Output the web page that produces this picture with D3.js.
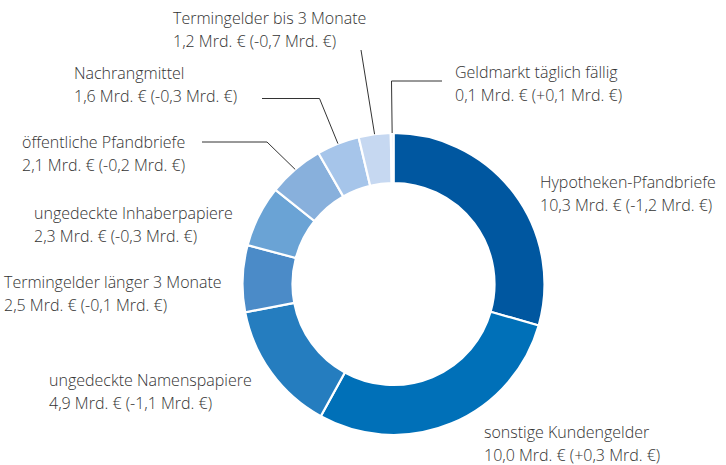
<!DOCTYPE html>
<meta charset="utf-8">
<style>
    body { margin: 0; background: #fff; }
    text { font-family: "Open Sans", sans-serif; font-weight: 300; font-size: 16px; fill: #333; }
</style>
<svg width="726" height="465"></svg>
<script src="https://cdn.jsdelivr.net/npm/d3@7"></script>
<script>
// categories clockwise from 12 o'clock
var categories = ["Hypotheken-Pfandbriefe", "sonstige Kundengelder", "ungedeckte Namenspapiere",
    "Termingelder länger 3 Monate", "ungedeckte Inhaberpapiere", "öffentliche Pfandbriefe",
    "Nachrangmittel", "Termingelder bis 3 Monate", "Geldmarkt täglich fällig"];
var values = [10.3, 10.0, 4.9, 2.5, 2.3, 2.1, 1.6, 1.2, 0.1];
var valueLabels = ["10,3 Mrd. € (-1,2 Mrd. €)", "10,0 Mrd. € (+0,3 Mrd. €)", "4,9 Mrd. € (-1,1 Mrd. €)",
    "2,5 Mrd. € (-0,1 Mrd. €)", "2,3 Mrd. € (-0,3 Mrd. €)", "2,1 Mrd. € (-0,2 Mrd. €)",
    "1,6 Mrd. € (-0,3 Mrd. €)", "1,2 Mrd. € (-0,7 Mrd. €)", "0,1 Mrd. € (+0,1 Mrd. €)"];
var colors = ["#0057a0", "#0070b8", "#257dbf", "#4b8bc8", "#6aa3d5", "#88b0dc",
    "#a6c5ea", "#c6d8f1", "#e4ecf8"];

var svg = d3.select("svg"),
    cx = 393.5, cy = 284,
    outerR = 151, innerR = 101;

var data = categories.map(function(c, i) {
    return {name: c, value: values[i], label: valueLabels[i], color: colors[i]};
});

var pie = d3.pie().sort(null).value(function(d) { return d.value; });
var arcs = pie(data);

var arc = d3.arc().innerRadius(innerR).outerRadius(outerR);

var g = svg.append("g").attr("transform", "translate(" + cx + "," + cy + ")");

g.selectAll("path")
    .data(arcs)
    .enter().append("path")
    .attr("d", arc)
    .attr("fill", function(d) { return d.data.color; })
    .attr("stroke", "#fff")
    .attr("stroke-width", 2.2);

// label layout: x, baseline of first line
var labelPos = [
    [540, 188], [484, 437.5], [49, 386], [4, 287.5], [34, 219],
    [22, 148], [74, 79], [173, 23.5], [455, 78]
];

var labels = svg.append("g").selectAll("text")
    .data(arcs)
    .enter().append("text")
    .attr("x", function(d, i) { return labelPos[i][0]; })
    .attr("y", function(d, i) { return labelPos[i][1]; });
labels.append("tspan").text(function(d) { return d.data.name; });
labels.append("tspan")
    .attr("x", function(d, i) { return labelPos[i][0]; })
    .attr("dy", 23.3)
    .text(function(d) { return d.data.label; });

// leader lines for the small slices at the top
function edgePoint(d) {
    var a = (d.startAngle + d.endAngle) / 2;
    return [cx + outerR * Math.sin(a), cy - outerR * Math.cos(a)];
}
var leaders = [
    {i: 8, pts: [[391.5, 81], [442, 81]]},
    {i: 7, pts: [[361, 50]]},
    {i: 6, pts: [[319.5, 98.5], [262, 98.5]]},
    {i: 5, pts: [[267, 142], [202, 142]]}
];
var line = d3.line();
leaders.forEach(function(l) {
    var p0 = edgePoint(arcs[l.i]);
    svg.append("path")
        .attr("d", line([p0].concat(l.pts)))
        .attr("fill", "none")
        .attr("stroke", "#333")
        .attr("stroke-width", 1);
});
</script>
